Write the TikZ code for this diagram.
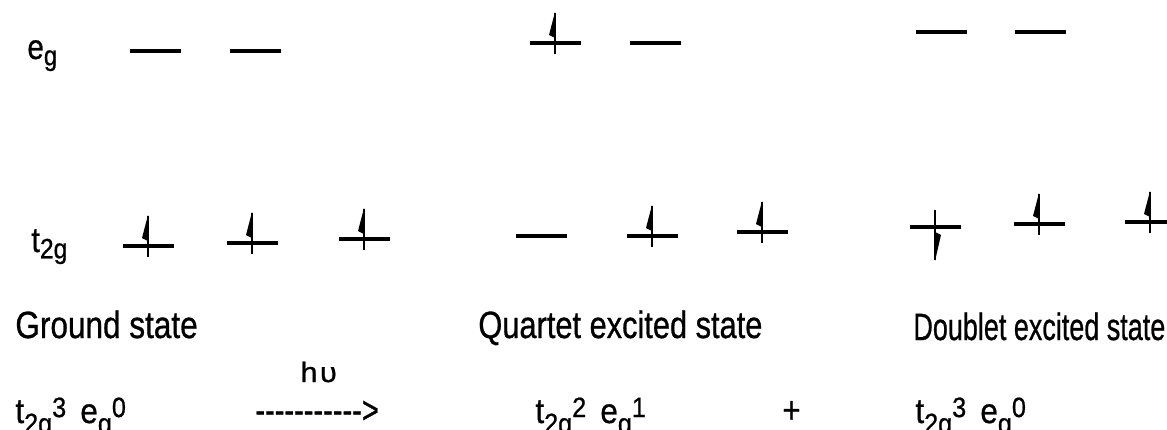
\documentclass[tikz,border=0pt]{standalone}
\usepackage{fontspec}
\setmainfont{Liberation Sans}[FakeBold=0.8]
\usepackage{graphicx}
\usepackage{tikz}
\usetikzlibrary{positioning}
\newcommand{\hnarrow}[2][0.82]{\scalebox{#1}[1]{#2}}
\newcommand{\cfglo}[2][0.29em]{\raisebox{-#1}{\scalebox{0.8}{#2}}}
\newcommand{\cfghi}[1]{\raisebox{0.17em}{\scalebox{0.8}{#1}}}
\tikzset{
  cfglevel/.style={fill=black,inner sep=0pt,outer sep=0pt,
                   minimum width=25.5pt,minimum height=1.6pt},
  cfgtext/.style={font=\fontsize{19}{22}\selectfont,inner sep=0pt,anchor=base west},
  cfglabel/.style={cfgtext,font=\fontsize{17.5}{20}\selectfont},
  cfgconf/.style={cfgtext,font=\fontsize{17.5}{20}\selectfont},
  spinup/.pic={
    \draw[line width=1.2pt] (0,11) -- (0,-30);
    \fill (0,-31) -- (-6,-8) -- (0,-5) -- cycle;
  },
  spindown/.pic={
    \draw[line width=1.2pt] (0,-17) -- (0,33);
    \fill (0,34) -- (6,8) -- (0,5) -- cycle;
  }
}

\begin{document}
\begin{tikzpicture}[x=0.5pt,y=-0.5pt]
  \useasboundingbox (0,0) rectangle (1167,429);

  % ground state
  \node[cfglevel] (geg1) at (155,51) {};
  \node[cfglevel] (geg2) at (255,51) {};
  \node[cfglevel] (gt1) at (148,246) {};
  \node[cfglevel] (gt2) at (252,243) {};
  \node[cfglevel] (gt3) at (364,239) {};
  \foreach \lv in {gt1,gt2,gt3}{
    \pic at (\lv) {spinup};
  }

  % quartet excited state
  \node[cfglevel] (qeg1) at (555,43) {};
  \node[cfglevel] (qeg2) at (655,43) {};
  \node[cfglevel] (qt1) at (541,236) {};
  \node[cfglevel] (qt2) at (652,236) {};
  \node[cfglevel] (qt3) at (762,232) {};
  \foreach \lv in {qeg1,qt2,qt3}{
    \pic at (\lv) {spinup};
  }

  % doublet excited state
  \node[cfglevel] (deg1) at (941,32) {};
  \node[cfglevel] (deg2) at (1040,32) {};
  \node[cfglevel] (dt1) at (935,227) {};
  \node[cfglevel] (dt2) at (1039,224) {};
  \node[cfglevel] (dt3) at (1150,222) {};
  \pic at (dt1) {spindown};
  \foreach \lv in {dt2,dt3}{
    \pic at (\lv) {spinup};
  }

  \node[cfglabel] (eglabel) at (27,59) {\hnarrow[0.85]{e\cfglo[0.18em]{g}}};
  \node[cfglabel] (t2glabel) at (31,252) {\hnarrow[0.88]{t\cfglo[0.18em]{2g}}};

  \node[cfgtext] (gslabel) at (15,338) {\hnarrow[0.83]{Ground state}};
  \node[cfgtext] (qslabel) at (478,338) {\hnarrow[0.81]{Quartet excited state}};
  \node[cfgtext] (dslabel) at (913,340) {\hnarrow[0.71]{Doublet excited state}};

  \node[cfgtext,font=\fontsize{14}{17}\selectfont] (hnu) at (300,382)
    {\hnarrow[1.1]{h\hspace{0.08em}υ}};
  \node[cfgconf] (gsconf) at (15,423)
    {\hnarrow[0.9]{t\cfglo{2g}\cfghi{3}\hspace{0.45em}e\cfglo{g}\cfghi{0}}};
  \node[cfgtext] (hvarrow) at (255,423)
    {\hnarrow[0.765]{\foreach \k in {1,...,11}{-\kern0pt}>}};
  \node[cfgconf] (qsconf) at (535,423)
    {\hnarrow[0.9]{t\cfglo{2g}\cfghi{2}\hspace{0.45em}e\cfglo{g}\cfghi{1}}};
  \node[cfgtext] (plus) at (782,423) {\hnarrow{+}};
  \node[cfgconf] (dsconf) at (915,423)
    {\hnarrow[0.9]{t\cfglo{2g}\cfghi{3}\hspace{0.45em}e\cfglo{g}\cfghi{0}}};
\end{tikzpicture}
\end{document}
